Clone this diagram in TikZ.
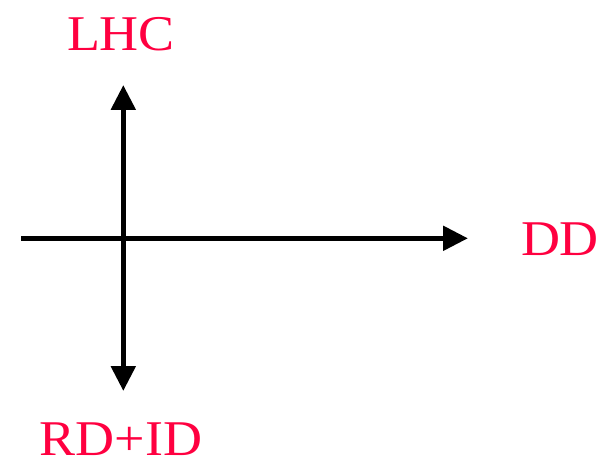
\documentclass[tikz,border=0pt]{standalone}
\usepackage{fontspec}
\setmainfont{Liberation Serif}[FakeStretch=1.08]
\usetikzlibrary{arrows.meta}
\definecolor{labelred}{RGB}{255,0,64}
\tikzset{
  axislabel/.style={text=labelred, font=\fontsize{50}{54}\selectfont, inner sep=0pt, anchor=center},
  axisline/.style={line width=5.3pt, -{Triangle[length=25pt,width=24pt]}}
}
\begin{document}
\begin{tikzpicture}[x=1pt,y=-1pt]
\useasboundingbox (0,0) rectangle (607,465);
\coordinate (o) at (123.3,238.3);
\coordinate (left) at (21,238.3);
\coordinate (right) at (468,238.3);
\coordinate (top) at (123.3,85);
\coordinate (bottom) at (123.3,391);
\draw[axisline] (left) -- (right);
\draw[axisline] (o) -- (top);
\draw[axisline] (o) -- (bottom);
\node[axislabel] (lhc) at (121,34) {LHC};
\node[axislabel] (dd) at (560,239) {DD};
\node[axislabel] (rdid) at (121,439) {RD+ID};
\end{tikzpicture}
\end{document}
